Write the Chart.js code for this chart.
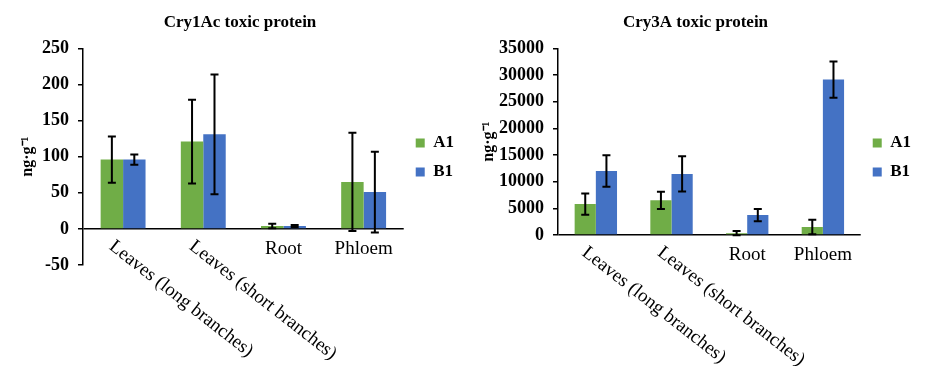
<!DOCTYPE html>
<html>
<head>
<meta charset="utf-8">
<script src="https://cdn.jsdelivr.net/npm/chart.js@4"></script>
<style>
  html, body { margin: 0; padding: 0; background: #fff; }
  .box { position: absolute; top: 0; height: 389px; }
</style>
</head>
<body>
<div class="box" style="left:0;width:470px"><canvas id="cry1ac" width="470" height="389"></canvas></div>
<div class="box" style="left:470px;width:457px"><canvas id="cry3a" width="457" height="389"></canvas></div>
<script>
// Data
const categories = ["Leaves (long branches)", "Leaves (short branches)", "Root", "Phloem"];
const seriesNames = ["A1", "B1"];

const cry1acA1 = [96, 121, 4, 65];
const cry1acA1Err = [32, 58, 3, 68];
const cry1acB1 = [96, 131, 4, 51];
const cry1acB1Err = [7, 83, 1.5, 56];

const cry3aA1 = [5800, 6500, 350, 1500];
const cry3aA1Err = [2000, 1600, 400, 1350];
const cry3aB1 = [12000, 11450, 3750, 29150];
const cry3aB1Err = [2950, 3300, 1150, 3400];

const serif = '"Liberation Serif", "Times New Roman", serif';
Chart.defaults.font.family = serif;
Chart.defaults.color = "#000";

// error bars, drawn from the dataset values through the y scale
const errorBars = {
    id: "errorBars",
    afterDatasetsDraw(chart) {
        const ctx = chart.ctx;
        const y = chart.scales.y;
        ctx.save();
        ctx.strokeStyle = "#000";
        ctx.lineWidth = 2;
        chart.data.datasets.forEach((ds, i) => {
            const meta = chart.getDatasetMeta(i);
            meta.data.forEach((bar, j) => {
                const v = ds.data[j];
                const e = ds.errors[j];
                const top = y.getPixelForValue(v + e);
                const bot = y.getPixelForValue(v - e);
                ctx.beginPath();
                ctx.moveTo(bar.x, top);
                ctx.lineTo(bar.x, bot);
                ctx.moveTo(bar.x - 4, top);
                ctx.lineTo(bar.x + 4, top);
                ctx.moveTo(bar.x - 4, bot);
                ctx.lineTo(bar.x + 4, bot);
                ctx.stroke();
            });
        });
        ctx.restore();
    }
};

// category labels under the zero line, long ones slanted
const xLabels = {
    id: "xLabels",
    afterDraw(chart) {
        const ctx = chart.ctx;
        const x = chart.scales.x;
        const y0 = chart.scales.y.getPixelForValue(0);
        ctx.save();
        ctx.fillStyle = "#000";
        ctx.font = "19px " + serif;
        ctx.textBaseline = "top";
        x.getLabels().forEach((label, i) => {
            const cx = x.getPixelForValue(i);
            if (label.length > 10) {
                ctx.save();
                ctx.translate(cx - 6, y0 + 8);
                ctx.rotate(38 * Math.PI / 180);
                ctx.textAlign = "left";
                ctx.fillText(label, 0, 0);
                ctx.restore();
            } else {
                ctx.textAlign = "center";
                ctx.fillText(label, cx, y0 + 11);
            }
        });
        ctx.restore();
    }
};

function makeChart(id, title, a1, a1Err, b1, b1Err, yMin, yMax, step, padLeft, axisWidth, titlePad, xHeight) {
    return new Chart(document.getElementById(id), {
        type: "bar",
        data: {
            labels: categories,
            datasets: [
                { label: seriesNames[0], data: a1, errors: a1Err, backgroundColor: "#70AD47", borderWidth: 0 },
                { label: seriesNames[1], data: b1, errors: b1Err, backgroundColor: "#4472C4", borderWidth: 0 },
            ],
        },
        options: {
            responsive: false,
            animation: false,
            datasets: { bar: { categoryPercentage: 0.56, barPercentage: 1 } },
            layout: { padding: { top: 0, left: padLeft, right: 6, bottom: 74 } },
            plugins: {
                title: {
                    display: true,
                    text: title,
                    font: { size: 17, weight: "bold" },
                    padding: { top: 12, bottom: 16 },
                },
                legend: {
                    position: "right",
                    labels: {
                        boxWidth: 9,
                        boxHeight: 9,
                        padding: 12,
                        font: { size: 17, weight: "bold" },
                    },
                },
                tooltip: { enabled: false },
            },
            scales: {
                x: {
                    grid: { display: false },
                    border: { display: false },
                    ticks: { display: false },
                    afterFit: (s) => { s.height = xHeight; },
                },
                y: {
                    min: yMin,
                    max: yMax,
                    z: 1,
                    border: { color: "#000", width: 1.5 },
                    grid: {
                        color: (c) => (c.tick && c.tick.value === 0 ? "#000" : "rgba(0,0,0,0)"),
                        lineWidth: 1.5,
                        tickColor: "#000",
                        tickWidth: 1.5,
                        tickLength: 5,
                    },
                    ticks: {
                        stepSize: step,
                        padding: 9,
                        font: { size: 18, weight: "bold" },
                        callback: (v) => String(v),
                    },
                    title: {
                        display: true,
                        text: "ng·g⁻¹",
                        font: { size: 16, weight: "bold" },
                        padding: { top: titlePad, bottom: 0 },
                    },
                    afterFit: (s) => { s.width = axisWidth; },
                },
            },
        },
        plugins: [errorBars, xLabels],
    });
}

makeChart("cry1ac", "Cry1Ac toxic protein", cry1acA1, cry1acA1Err, cry1acB1, cry1acB1Err, -50, 250, 50, 16, 67, 2, 50);
makeChart("cry3a", "Cry3A toxic protein", cry3aA1, cry3aA1Err, cry3aB1, cry3aB1Err, 0, 35000, 5000, 0, 88, 9, 80);
</script>
</body>
</html>
